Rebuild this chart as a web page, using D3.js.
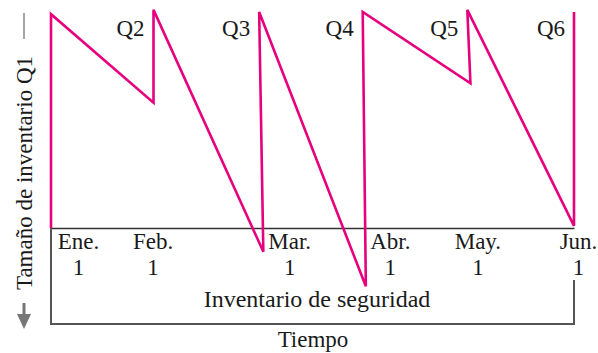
<!DOCTYPE html>
<html>
<head>
<meta charset="utf-8">
<script src="https://cdn.jsdelivr.net/npm/d3@7"></script>
<style>
  body { margin: 0; background: #fff; }
  svg text { font-family: "Liberation Serif", "DejaVu Serif", serif; fill: #1a1a1a; }
</style>
</head>
<body>
<div id="chart"></div>
<script>
// months on the time axis, each label is day "1" of the month
const months = ["Ene.", "Feb.", "Mar.", "Abr.", "May.", "Jun."];
const days = ["1", "1", "1", "1", "1", "1"];

// inventory path: time in months, level in % of Q
const time  = [0, 0,  0.98, 0.98, 2.03, 1.99, 3.01, 2.98, 4.01, 3.98, 5, 5];
const level = [0, 99, 58,   101,  -11,  100,  -27,  100,  67,   101,  1, 100];

// order labels shown at each replenishment
const qLabels = ["Q2", "Q3", "Q4", "Q5", "Q6"];

const width = 598, height = 353;
const pink = "#e6007e";
const fs = 23;

const x = d3.scaleLinear().domain([0, 5]).range([51, 574]);
const y = d3.scaleLinear().domain([0, 100]).range([228, 12]);

const svg = d3.select("#chart").append("svg")
  .attr("width", width)
  .attr("height", height)
  .attr("font-family", "Liberation Serif");

// month axis along the baseline
const labelDx = [27, -3, 29, 25, 8, 4];
const axis = svg.append("g")
  .attr("transform", `translate(0,${y(0)})`)
  .call(d3.axisBottom(x).tickValues(d3.range(months.length)).tickSize(0).tickSizeOuter(0).tickFormat(""))
  .attr("font-family", null);
axis.select(".domain").attr("stroke", "#333").attr("stroke-width", 1.5);
axis.selectAll(".tick text").remove();
axis.selectAll(".tick").each(function(i) {
  const t = d3.select(this).append("text")
    .attr("text-anchor", "middle")
    .attr("font-size", fs)
    .attr("x", labelDx[i]);
  t.append("tspan").attr("x", labelDx[i]).attr("y", 21).text(months[i]);
  t.append("tspan").attr("x", labelDx[i]).attr("y", 47).text(days[i]);
});

// "Tiempo" bracket
svg.append("path")
  .attr("d", `M${x(0)},${y(0)} V324 H${x(5)} V280`)
  .attr("fill", "none")
  .attr("stroke", "#555")
  .attr("stroke-width", 2);

svg.append("text")
  .attr("x", 317).attr("y", 307)
  .attr("text-anchor", "middle")
  .attr("font-size", 24)
  .text("Inventario de seguridad");

svg.append("text")
  .attr("x", 313).attr("y", 347)
  .attr("text-anchor", "middle")
  .attr("font-size", fs)
  .text("Tiempo");

// inventory sawtooth
const pts = time.map((t, i) => [x(t), y(level[i])]);
svg.append("path")
  .attr("d", d3.line()(pts))
  .attr("fill", "none")
  .attr("stroke", pink)
  .attr("stroke-width", 2.6)
  .attr("stroke-linejoin", "miter");

// Q labels next to each replenishment
svg.selectAll(".q")
  .data(qLabels)
  .join("text")
  .attr("class", "q")
  .attr("x", (d, i) => x(time[3 + 2 * i]) - 9)
  .attr("y", 36)
  .attr("text-anchor", "end")
  .attr("font-size", fs)
  .text(d => d);

// y label with marker line and arrow
svg.append("text")
  .attr("transform", "translate(32,173) rotate(-90)")
  .attr("text-anchor", "middle")
  .attr("font-size", fs)
  .text("Tamaño de inventario Q1");

svg.append("line")
  .attr("x1", 24).attr("x2", 24)
  .attr("y1", 13).attr("y2", 39)
  .attr("stroke", "#888")
  .attr("stroke-width", 1.5);

svg.append("line")
  .attr("x1", 24).attr("x2", 24)
  .attr("y1", 303).attr("y2", 316)
  .attr("stroke", "#777")
  .attr("stroke-width", 3);

svg.append("path")
  .attr("d", "M17,314 L31,314 L24,329 Z")
  .attr("fill", "#777");
</script>
</body>
</html>
